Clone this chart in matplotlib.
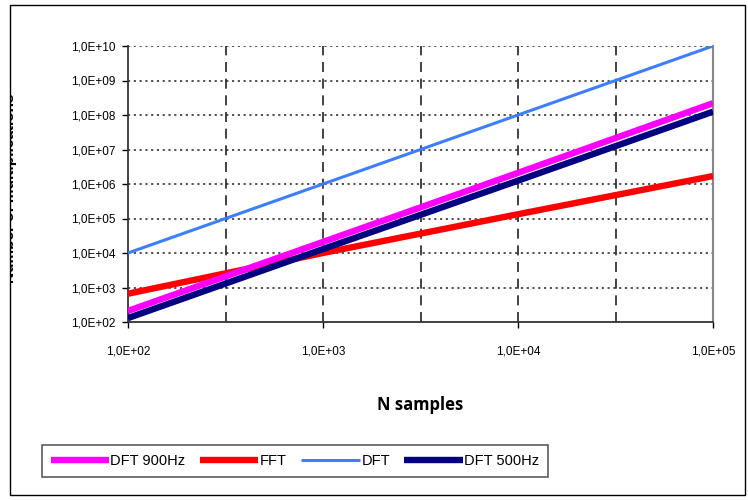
import matplotlib
matplotlib.use("Agg")
import matplotlib.pyplot as plt
from matplotlib.patches import Rectangle

# ---- data ----
n_samples = [1e2, 1e3, 1e4, 1e5]
dft_900hz = [2.1e2, 2.1e4, 2.1e6, 2.2e8]
fft = [6.6e2, 1.0e4, 1.33e5, 1.7e6]
dft = [1.0e4, 1.0e6, 1.0e8, 1.0e10]
dft_500hz = [1.3e2, 1.3e4, 1.25e6, 1.25e8]

series_names = ["DFT 900Hz", "FFT", "DFT", "DFT 500Hz"]
x_tick_values = [1e2, 1e3, 1e4, 1e5]
x_tick_labels = ["1,0E+02", "1,0E+03", "1,0E+04", "1,0E+05"]
y_tick_values = [1e2, 1e3, 1e4, 1e5, 1e6, 1e7, 1e8, 1e9, 1e10]
y_tick_labels = ["1,0E+02", "1,0E+03", "1,0E+04", "1,0E+05", "1,0E+06",
                 "1,0E+07", "1,0E+08", "1,0E+09", "1,0E+10"]
x_grid_values = [10**2.5, 1e3, 10**3.5, 1e4, 10**4.5]
x_label = "N samples"
y_label = "Number of multiplications"

plt.rcParams['font.family'] = ['Liberation Sans', 'DejaVu Sans']

W, H = 748, 500
fig = plt.figure(figsize=(W / 100, H / 100), dpi=100)
ax = fig.add_axes([128 / W, 1 - 322 / H, (713 - 128) / W, (322 - 46) / H])

ax.set_xscale("log")
ax.set_yscale("log")
ax.set_xlim(1e2, 1e5)
ax.set_ylim(1e2, 1e10)

# grid
for yv in y_tick_values[1:]:
    ax.axhline(yv, color="#444444", lw=1.3, ls=(0, (1.2, 2.0)), zorder=1)
for xv in x_grid_values:
    ax.axvline(xv, color="#222222", lw=1.2, ls=(0, (6, 4)), zorder=1)

# series
l900, = ax.plot(n_samples, dft_900hz, color="#FF00FF", lw=4.6, zorder=4,
                solid_capstyle="butt")
lfft, = ax.plot(n_samples, fft, color="#FF0000", lw=4.6, zorder=3,
                solid_capstyle="butt")
ldft, = ax.plot(n_samples, dft, color="#3D7EFF", lw=2.2, zorder=5,
                solid_capstyle="butt")
l500, = ax.plot(n_samples, dft_500hz, color="#000080", lw=4.6, zorder=5,
                solid_capstyle="butt")

# axes styling
ax.set_xticks(x_tick_values)
ax.set_xticklabels(x_tick_labels)
ax.set_yticks(y_tick_values)
ax.set_yticklabels(y_tick_labels)
ax.minorticks_off()
ax.tick_params(axis="both", labelsize=8.5, length=4, width=1, direction="out",
               colors="black")
ax.tick_params(axis="x", pad=13)
ax.tick_params(axis="y", pad=5)
ax.spines["top"].set_visible(False)
ax.spines["right"].set_color("#888888")
ax.spines["right"].set_linewidth(1.5)
ax.spines["left"].set_color("#333333")
ax.spines["bottom"].set_color("#333333")
ax.spines["left"].set_linewidth(1.3)
ax.spines["bottom"].set_linewidth(1.3)

fig.text(420 / W, 1 - 405 / H, x_label, ha="center", va="center",
         fontsize=12, fontweight="bold", family=["Open Sans", "DejaVu Sans"])

# y label, mostly hidden at the left edge of the chart frame
fig.text(17 / W, 1 - 188 / H, y_label, rotation=90, ha="right", va="center",
         fontsize=11, fontweight="bold", zorder=2)
fig.patches.append(Rectangle((0, 0), 10 / W, 1, transform=fig.transFigure,
                             facecolor="white", edgecolor="none", zorder=3))
# outer frame
fig.patches.append(Rectangle((10 / W, 5 / H), (745 - 10) / W, (495 - 5) / H,
                             transform=fig.transFigure, facecolor="none",
                             edgecolor="black", lw=1.0, zorder=4))

# legend
handles = [l900, lfft, ldft, l500]
leg = fig.legend(handles, series_names, loc="center",
                 bbox_to_anchor=(295 / W, 1 - 461 / H), ncol=4,
                 fontsize=10.5, frameon=True, fancybox=False, handlelength=4.0,
                 handletextpad=0.1, columnspacing=1.0, borderpad=0.6,
                 borderaxespad=0)
leg.get_frame().set_edgecolor("#333333")
leg.get_frame().set_linewidth(1.2)

fig.savefig("out.png", dpi=100)
